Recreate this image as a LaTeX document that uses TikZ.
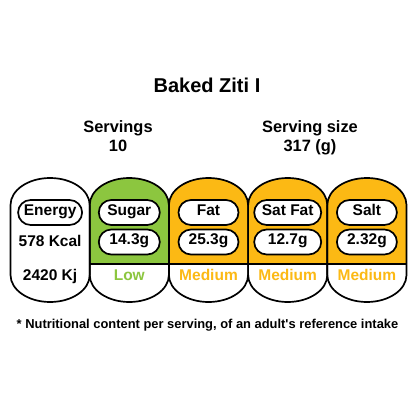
\documentclass[tikz,border=0pt]{standalone}
\usepackage{fontspec}
\setmainfont{Liberation Sans}[Ligatures=TeXOff]
\definecolor{nutgreen}{RGB}{140,198,63}
\definecolor{nutorange}{RGB}{252,185,20}
\begin{document}
\begin{tikzpicture}[x=1pt,y=-1pt,
  pill/.style={draw, line width=1.7pt, rounded corners=12.5pt, minimum height=25pt,
    inner xsep=0pt, inner ysep=0pt, fill=white,
    font=\fontsize{15.5}{18}\selectfont\bfseries, text height=0.72em, text depth=0.21em},
  plaintxt/.style={inner sep=0pt, font=\fontsize{15.5}{18}\selectfont\bfseries,
    text height=0.72em, text depth=0.21em},
  colline/.style={line width=1.7pt, black},
  headtxt/.style={inner sep=0pt, anchor=base, font=\fontsize{16.4}{19}\selectfont\bfseries}]
\useasboundingbox[fill=white] (0,0) rectangle (414,414);

\node[anchor=base, inner sep=0pt, font=\fontsize{20}{24}\selectfont\bfseries] (title) at (207,93) {Baked Ziti I};
\node[headtxt] (srv) at (118,132) {Servings};
\node[headtxt] (srvn) at (118,151) {10};
\node[headtxt] (size) at (310,132) {Serving size};
\node[headtxt] (sizen) at (310,151) {317 (g)};

% columns: left edge, colour flag
\def\T{178}\def\B{302}\def\ry{27}\def\W{79.2}
\foreach \L/\col in {89.7/nutgreen,168.9/nutorange,248.1/nutorange,327.3/nutorange}{
  \pgfmathsetmacro\R{\L+\W}\pgfmathsetmacro\M{\L+\W/2}
  \pgfmathsetmacro\kx{0.552*\W/2}\pgfmathsetmacro\ky{0.552*\ry}
  \fill[\col] (\L,264) -- (\L,\T+\ry) .. controls (\L,\T+\ry-\ky) and (\M-\kx,\T) .. (\M,\T)
     .. controls (\M+\kx,\T) and (\R,\T+\ry-\ky) .. (\R,\T+\ry) -- (\R,264) -- cycle;
  \draw[colline] (\L,264) -- (\R,264);
}
\foreach \L in {10.5,89.7,168.9,248.1,327.3}{
  \pgfmathsetmacro\R{\L+\W}\pgfmathsetmacro\M{\L+\W/2}
  \pgfmathsetmacro\kx{0.552*\W/2}\pgfmathsetmacro\ky{0.552*\ry}
  \draw[colline] (\L,\B-\ry) -- (\L,\T+\ry) .. controls (\L,\T+\ry-\ky) and (\M-\kx,\T) .. (\M,\T)
     .. controls (\M+\kx,\T) and (\R,\T+\ry-\ky) .. (\R,\T+\ry) -- (\R,\B-\ry)
     .. controls (\R,\B-\ry+\ky) and (\M+\kx,\B) .. (\M,\B)
     .. controls (\M-\kx,\B) and (\L,\B-\ry+\ky) .. cycle;
}

% Energy
\node[pill, minimum width=64pt] (en) at (50.1,212.5) {Energy};
\node[plaintxt] (kcal) at (50.1,244) {578 Kcal};
\node[plaintxt] (kj) at (50.1,278) {2420 Kj};
% Sugar
\node[pill, minimum width=61pt] (su) at (129.3,212.5) {Sugar};
\node[pill, minimum width=61pt] (suv) at (129.3,242) {14.3g};
\node[plaintxt, text=nutgreen] (sul) at (129.3,278) {Low};
% Fat
\node[pill, minimum width=60pt] (fa) at (208.5,212.5) {Fat};
\node[pill, minimum width=60pt] (fav) at (208.5,242) {25.3g};
\node[plaintxt, text=nutorange] (fal) at (208.5,278) {Medium};
% Sat Fat
\node[pill, minimum width=67pt] (sf) at (287.7,212.5) {Sat Fat};
\node[pill, minimum width=67pt] (sfv) at (287.7,242) {12.7g};
\node[plaintxt, text=nutorange] (sfl) at (287.7,278) {Medium};
% Salt
\node[pill, minimum width=60pt] (sa) at (366.9,212.5) {Salt};
\node[pill, minimum width=60pt] (sav) at (366.9,242) {2.32g};
\node[plaintxt, text=nutorange] (sal) at (366.9,278) {Medium};

\node[anchor=base, inner sep=0pt, font=\fontsize{12.9}{15}\selectfont\bfseries] (foot) at (207.5,328)
  {* Nutritional content per serving, of an adult's reference intake};
\end{tikzpicture}
\end{document}
